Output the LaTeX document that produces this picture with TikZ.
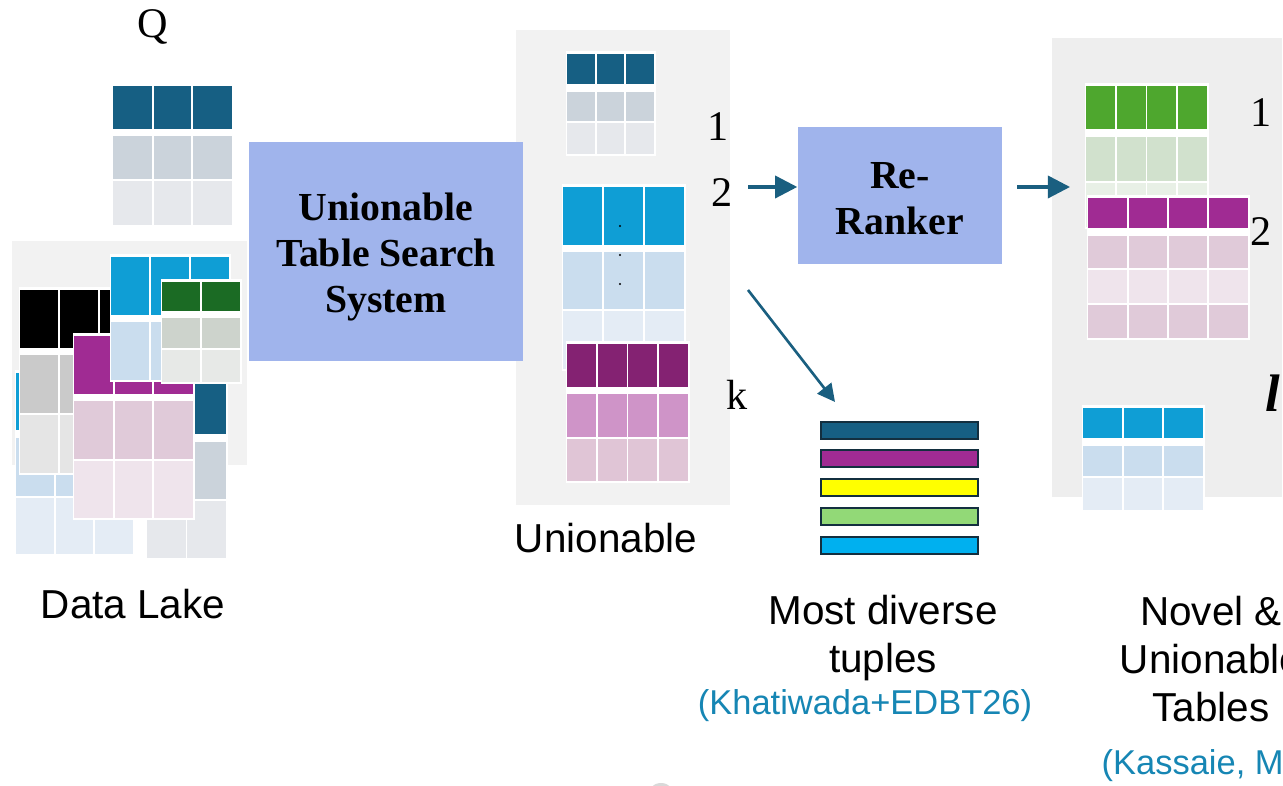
\documentclass[tikz,border=0pt]{standalone}
\usepackage{fontspec}
\setmainfont{Liberation Serif}
\setsansfont{Liberation Sans}
\usetikzlibrary{arrows.meta,positioning}

\definecolor{navy}{RGB}{22,95,131}
\definecolor{slateA}{RGB}{203,211,219}
\definecolor{slateB}{RGB}{230,232,236}
\definecolor{cyanH}{RGB}{15,158,213}
\definecolor{skyA}{RGB}{202,221,238}
\definecolor{skyB}{RGB}{228,236,245}
\definecolor{greyA}{RGB}{202,202,202}
\definecolor{greyB}{RGB}{229,229,229}
\definecolor{magH}{RGB}{160,43,147}
\definecolor{magA}{RGB}{224,202,217}
\definecolor{magB}{RGB}{239,228,236}
\definecolor{forestH}{RGB}{27,107,36}
\definecolor{forestA}{RGB}{205,211,204}
\definecolor{forestB}{RGB}{231,233,231}
\definecolor{plumH}{RGB}{132,34,114}
\definecolor{plumA}{RGB}{207,148,200}
\definecolor{plumB}{RGB}{224,197,214}
\definecolor{leafH}{RGB}{78,167,46}
\definecolor{leafA}{RGB}{209,225,205}
\definecolor{leafB}{RGB}{232,240,230}
\definecolor{boxblue}{RGB}{160,180,236}
\definecolor{arrowblue}{RGB}{26,95,128}
\definecolor{citeblue}{RGB}{22,134,180}
\definecolor{tupedge}{RGB}{19,47,63}
\definecolor{tupyellow}{RGB}{255,255,0}
\definecolor{tupgreen}{RGB}{146,217,119}
\definecolor{tupcyan}{RGB}{0,176,239}

\tikzset{
  panel/.style={inner sep=0pt},
  sysbox/.style={fill=boxblue, inner sep=0pt},
  systext/.style={align=center, inner sep=0pt,
    font=\bfseries\fontsize{11.3}{13.1}\selectfont},
  flow/.style={draw=arrowblue, line width=0.95pt, -{Triangle[length=6.3pt,width=6.3pt]}},
  thinflow/.style={draw=arrowblue, line width=0.75pt, -{Triangle[length=5pt,width=5pt]}},
  lbl/.style={font=\sffamily\fontsize{11.5}{13.6}\selectfont, align=center},
  cite/.style={text=citeblue, font=\sffamily\fontsize{9.8}{11.5}\selectfont},
  rank/.style={font=\fontsize{12}{14}\selectfont, inner sep=0pt},
  tuple/.style={draw=tupedge, line width=0.6pt}
}

% x0, x1, columns, top, bottom, rows y0/y1/colour
\newcommand{\tabl}[6]{%
  \fill[white] (#1-1.5,#4-1.5) rectangle (#2+1.5,#5+1.5);
  \foreach \ya/\yb/\cc in {#6}
    \fill[\cc] (#1,\ya+0.6) rectangle (#2,\yb-0.6);
  \pgfmathsetmacro\cw{(#2-#1)/#3}
  \pgfmathtruncatemacro\nc{#3-1}
  \foreach \i in {1,...,\nc}
    \draw[white,line width=0.55pt] (#1+\i*\cw,#4) -- (#1+\i*\cw,#5);
}

\begin{document}
\begin{tikzpicture}[x=0.01cm,y=-0.01cm]
  \clip (0,0) rectangle (1283,786);
  \fill[white] (0,0) rectangle (1283,786);

  % query table
  \node[rank] (q) at (153,27) {Q};
  \tabl{113}{232}{3}{85}{226}{85/130/navy, 135/180/slateA, 180/226/slateB}

  % data lake
  \node[panel, fill=black!5, minimum width=23.5mm, minimum height=22.4mm] (lake) at (129.5,353) {};
  \tabl{16}{133}{3}{372}{555}{372/431/cyanH, 437/497/skyA, 497/555/skyB}
  \tabl{147}{226}{2}{370}{559}{370/435/navy, 441/500/slateA, 500/559/slateB}
  \tabl{20}{138}{3}{289}{474}{289/349/black, 354/414/greyA, 414/474/greyB}
  \tabl{74}{193}{3}{335}{519}{335/395/magH, 400/460/magA, 460/519/magB}
  \tabl{111}{229}{3}{256}{381}{256/316/cyanH, 321/381/skyA}
  \tabl{162}{240}{2}{281}{383}{281/312/forestH, 317/349/forestA, 349/383/forestB}
  \node[lbl] (lakelbl) at (133,604) {Data Lake};

  % unionable tables
  \node[panel, fill=black!5, minimum width=21.4mm, minimum height=47.5mm] (unipanel) at (623,267.5) {};
  \tabl{567}{654}{3}{53}{155}{53/85/navy, 91/122/slateA, 122/155/slateB}
  \tabl{563}{684}{3}{186}{370}{186/246/cyanH, 251/310/skyA, 310/370/skyB}
  \fill (620,226) circle (1.1);
  \fill (620,255) circle (1.1);
  \fill (620,284) circle (1.1);
  \tabl{567}{688}{4}{343}{482}{343/388/plumH, 393/438/plumA, 438/482/plumB}
  \node[rank] (one) at (718,127) {1};
  \node[rank] (two) at (722,193) {2};
  \node[rank] (kk) at (737,395) {k};
  \node[lbl] (unilbl) at (606,538) {Unionable};

  \node[sysbox, minimum width=27.4mm, minimum height=21.9mm] (search) at (386,251.5) {};
  \node[systext] (searchtxt) at (386,257) {Unionable\\Table Search\\System};
  \node[sysbox, minimum width=20.4mm, minimum height=13.7mm] (rerank) at (900,195.5) {};
  \node[systext] (reranktxt) at (900,198.5) {Re-\\Ranker};

  % novel tables
  \node[panel, fill=black!6.5, minimum width=23mm, minimum height=45.9mm] (novel) at (1167,267.5) {};
  \tabl{1086}{1207}{4}{85}{228}{85/130/leafH, 136/182/leafA, 182/228/leafB}
  \tabl{1088}{1248}{4}{197}{339}{197/229/magH, 235/269/magA, 269/304/magB, 304/339/magA}
  \tabl{1083}{1203}{3}{407}{511}{407/439/cyanH, 445/477/skyA, 477/511/skyB}
  \node[rank] (nov1) at (1261,113) {1};
  \node[rank] (nov2) at (1261,232) {2};
  \node[font=\bfseries\itshape\fontsize{15}{17}\selectfont, inner sep=0pt] (ell) at (1273,393) {l};

  \coordinate (fromtwo) at (748,187);
  \coordinate (outrank) at (1017,187);
  \coordinate (tonovel) at (1070,187);
  \coordinate (fromk) at (748,290);
  \coordinate (totuple) at (835,402);
  \draw[flow] (fromtwo) -- (rerank.west |- fromtwo);
  \draw[flow] (outrank) -- (tonovel);
  \draw[thinflow] (fromk) -- (totuple);

  % diverse tuples
  \foreach \yy/\cc in {422/navy, 450/magH, 479/tupyellow, 508/tupgreen, 537/tupcyan}
    \draw[tuple, fill=\cc] (821,\yy) rectangle (978,\yy+17);
  \node[lbl] (tuplbl) at (883,638) {Most diverse\\tuples};
  \node[cite] (cite1) at (865,706) {(Khatiwada+EDBT26)};

  \node[lbl] (novlbl) at (1211,659) {Novel \&\\Unionable\\Tables};
  \node[cite, anchor=west, inner sep=0pt] (cite2) at (1101,766) {(Kassaie, M};

  \fill[black!15] (661,797) circle (14);
\end{tikzpicture}
\end{document}
